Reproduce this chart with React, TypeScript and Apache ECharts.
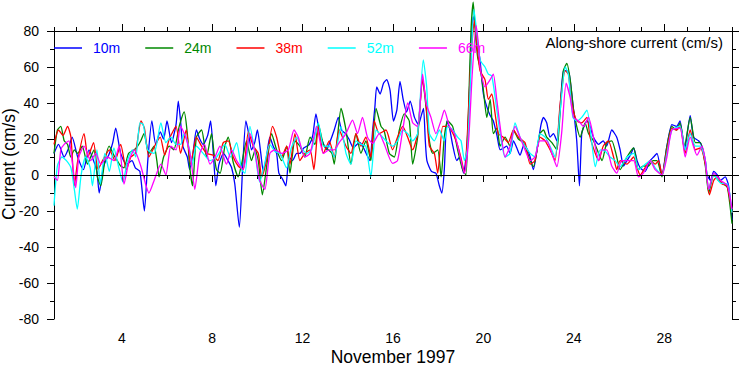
import React, { useEffect, useRef } from "react";
import * as echarts from "echarts";

// Day of November 1997 (fractional) and along-shore current (cm/s)
const s10m: [number, number][] = [
  [1.0,12],[1.2,17],[1.45,10],[1.65,15],[1.8,21],[2.05,10],[2.3,3],[2.55,14],[2.75,8],[2.9,2],[3.0,-10],[3.2,5],[3.45,12],[3.6,18],[3.73,26],[3.95,12],[4.2,6],[4.45,8],[4.6,4],[4.8,2],[5.0,-20],[5.15,8],[5.33,30],[5.5,17],[5.7,24],[5.85,20],[6.0,30],[6.2,18],[6.4,28],[6.5,41],[6.6,30],[6.7,16],[6.9,10],[7.0,3],[7.15,12],[7.3,25],[7.45,20],[7.6,17],[7.8,22],[7.93,30],[8.05,12],[8.16,-6],[8.3,6],[8.5,12],[8.7,8],[8.86,4],[9.0,-5],[9.2,-29],[9.35,5],[9.49,30],[9.6,24],[9.74,14],[9.88,18],[10.0,25],[10.15,12],[10.26,2],[10.4,10],[10.55,21],[10.7,16],[10.85,12],[10.95,1],[11.1,-2],[11.26,-6],[11.4,10],[11.55,8],[11.74,12],[11.88,12],[12.05,15],[12.3,17],[12.45,22],[12.59,34],[12.75,23],[12.9,18],[13.06,14],[13.2,18],[13.4,25],[13.58,32],[13.72,25],[13.9,23],[14.05,20],[14.25,15],[14.4,17],[14.54,18],[14.7,15],[14.85,11],[14.98,8],[15.1,25],[15.2,38],[15.28,49],[15.43,45],[15.58,51],[15.72,53],[15.87,47],[16.02,30],[16.17,36],[16.31,52],[16.45,42],[16.6,35],[16.76,41],[16.95,32],[17.13,28],[17.25,33],[17.35,37],[17.43,19],[17.5,8],[17.7,2],[17.9,1],[18.05,-6],[18.16,-10],[18.27,3],[18.38,30],[18.5,26],[18.65,16],[18.82,8],[18.95,10],[19.12,1],[19.25,12],[19.35,35],[19.45,70],[19.55,88],[19.65,82],[19.75,72],[19.85,64],[20.0,45],[20.15,38],[20.3,33],[20.44,30],[20.6,22],[20.74,14],[20.9,15],[21.03,16],[21.18,12],[21.33,19],[21.48,15],[21.62,11],[21.8,17],[21.95,14],[22.07,10],[22.21,3],[22.4,16],[22.55,28],[22.66,32],[22.8,29],[22.95,21],[23.1,23],[23.25,19],[23.4,38],[23.54,58],[23.69,58],[23.8,56],[23.99,36],[24.13,19],[24.25,-6],[24.35,23],[24.45,27],[24.58,30],[24.72,27],[24.87,21],[25.1,17],[25.3,19],[25.45,16],[25.68,25],[25.9,21],[26.05,14],[26.2,5],[26.35,8],[26.5,11],[26.65,15],[26.8,8],[26.94,4],[27.15,2],[27.38,8],[27.53,10],[27.68,12],[27.9,0],[28.12,16],[28.34,28],[28.55,27],[28.7,30],[28.9,14],[29.15,33],[29.3,21],[29.52,19],[29.67,16],[29.82,8],[29.9,0],[30.05,-3],[30.19,2],[30.35,0],[30.49,-3],[30.7,-1],[30.85,-6],[31.0,-25]
];

const s24m: [number, number][] = [
  [1.0,12],[1.15,25],[1.3,27],[1.45,19],[1.6,17],[1.74,10],[1.9,14],[2.05,12],[2.25,16],[2.48,6],[2.62,10],[2.77,14],[2.92,-1],[3.07,-6],[3.25,8],[3.44,16],[3.65,11],[3.8,8],[3.95,5],[4.1,4],[4.3,12],[4.55,14],[4.7,16],[4.84,19],[4.98,23],[5.2,12],[5.43,16],[5.55,8],[5.65,-1],[5.85,10],[6.1,16],[6.3,14],[6.54,27],[6.76,35],[6.9,23],[7.0,5],[7.13,-6],[7.3,21],[7.53,25],[7.75,10],[7.97,23],[8.1,10],[8.19,3],[8.35,1],[8.56,16],[8.71,21],[8.93,7],[9.15,-1],[9.3,6],[9.52,19],[9.74,8],[9.9,14],[10.04,8],[10.22,-11],[10.4,4],[10.63,23],[10.85,14],[11.07,8],[11.3,16],[11.44,1],[11.66,19],[11.88,16],[12.1,10],[12.33,21],[12.55,17],[12.7,28],[12.92,17],[13.14,14],[13.3,12],[13.4,6],[13.55,22],[13.7,37],[13.92,25],[14.14,6],[14.36,23],[14.58,12],[14.8,19],[15.02,8],[15.25,37],[15.47,27],[15.6,25],[15.84,12],[16.06,10],[16.28,25],[16.5,34],[16.72,30],[16.87,6],[17.09,21],[17.31,53],[17.46,38],[17.61,19],[17.76,12],[17.98,14],[18.13,-1],[18.27,21],[18.42,30],[18.64,27],[18.86,14],[19.08,3],[19.23,0],[19.35,40],[19.45,80],[19.55,96],[19.65,78],[19.75,65],[19.85,60],[20.0,47],[20.15,32],[20.3,42],[20.44,23],[20.6,26],[20.74,16],[20.96,21],[21.18,16],[21.33,25],[21.55,20],[21.77,18],[22.07,8],[22.21,4.6],[22.5,23],[22.66,25],[22.8,21],[23.03,18],[23.25,14],[23.4,36],[23.54,58],[23.69,62],[23.84,53],[23.99,36],[24.13,27],[24.28,21],[24.5,29],[24.65,23],[24.87,19],[25.1,12],[25.25,8],[25.46,18],[25.68,19],[25.9,10],[26.05,3],[26.35,10],[26.65,15],[26.86,3],[27.08,5],[27.31,5],[27.5,8],[27.68,8],[27.9,-1],[28.12,16],[28.34,27],[28.55,25],[28.7,29],[28.9,16],[29.15,32],[29.38,18],[29.6,18],[29.82,5],[29.97,-10],[30.19,0],[30.4,-3],[30.63,-5],[30.8,-7],[31.0,-27]
];

const s38m: [number, number][] = [
  [1.0,17],[1.2,25],[1.4,22],[1.6,27],[1.75,21],[1.9,-6],[2.05,8],[2.33,23],[2.5,10],[2.75,18],[2.95,3],[3.15,8],[3.45,14],[3.7,8],[3.95,17],[4.2,3],[4.4,10],[4.6,12],[4.85,30],[5.0,26],[5.2,10],[5.45,16],[5.7,21],[5.9,11],[6.1,20],[6.4,27],[6.6,12],[6.85,25],[7.05,6],[7.3,21],[7.53,16],[7.75,12],[8.05,11],[8.25,8],[8.49,18],[8.71,19],[8.93,10],[9.15,5],[9.37,3],[9.6,24],[9.82,16],[10.04,12],[10.19,-1],[10.4,8],[10.67,27],[10.85,21],[11.07,10],[11.3,16],[11.44,6],[11.66,23],[11.88,8],[12.1,12],[12.33,14],[12.5,3],[12.7,27],[12.92,12],[13.18,19],[13.4,10],[13.62,25],[13.92,16],[14.14,12],[14.36,23],[14.58,16],[14.8,21],[15.02,10],[15.17,30],[15.39,23],[15.69,25],[15.98,14],[16.2,21],[16.43,27],[16.65,21],[16.87,14],[17.09,23],[17.31,53],[17.46,40],[17.61,16],[17.83,12],[17.98,1],[18.2,27],[18.42,27],[18.57,25],[18.79,19],[19.0,10],[19.16,1],[19.3,25],[19.45,65],[19.6,86],[19.72,72],[19.85,58],[20.07,53],[20.22,42],[20.37,45],[20.52,34],[20.66,23],[20.88,21],[21.1,18],[21.33,25],[21.55,21],[21.84,18],[22.07,6],[22.28,8],[22.5,21],[22.73,19],[22.95,14],[23.17,8],[23.4,40],[23.62,58],[23.76,56],[23.91,40],[24.13,30],[24.35,29],[24.58,32],[24.72,21],[24.95,12],[25.1,8],[25.3,16],[25.53,19],[25.76,10],[25.9,3],[26.05,8],[26.35,6],[26.65,10],[26.8,4],[26.94,0],[27.15,4],[27.38,8],[27.6,6],[27.75,8],[27.9,0],[28.12,14],[28.34,26],[28.55,25],[28.7,27],[28.93,12],[29.15,25],[29.38,14],[29.6,15],[29.82,6],[30.0,-11],[30.19,-3],[30.35,-1],[30.56,-5],[30.78,-6],[31.0,-21]
];

const s52m: [number, number][] = [
  [1.0,-17],[1.15,5],[1.35,10],[1.55,8],[1.75,4],[1.9,-8],[2.03,-19],[2.2,0],[2.4,10],[2.6,4],[2.7,-6],[2.9,14],[3.05,-5],[3.25,12],[3.45,2],[3.65,15],[3.85,5],[4.05,-4],[4.25,8],[4.47,14],[4.62,10],[4.8,29],[4.95,28],[5.14,14],[5.43,12],[5.73,29],[5.95,18],[6.17,21],[6.4,17],[6.6,17],[6.76,23],[7.0,14],[7.1,5],[7.3,16],[7.6,12],[7.9,8],[8.2,10],[8.56,17],[8.8,10],[9.08,18],[9.3,3],[9.45,1],[9.67,27],[9.9,12],[10.1,-4],[10.3,5],[10.55,17],[10.78,13],[11.0,12],[11.29,4],[11.5,15],[11.74,21],[11.95,15],[12.18,12],[12.4,14],[12.7,29],[12.92,16],[13.18,16],[13.4,10],[13.7,27],[13.92,12],[14.14,6],[14.36,19],[14.58,17],[14.8,16],[15.02,-1],[15.25,25],[15.47,22],[15.69,19],[15.98,16],[16.2,19],[16.43,25],[16.65,23],[16.87,19],[17.09,23],[17.34,64],[17.49,49],[17.61,23],[17.83,19],[18.05,25],[18.27,19],[18.42,27],[18.64,25],[18.86,21],[19.01,19],[19.16,8],[19.3,15],[19.45,60],[19.58,92],[19.7,80],[19.85,64],[20.07,60],[20.22,56],[20.37,55],[20.52,43],[20.74,23],[20.96,10],[21.18,12],[21.4,29],[21.62,21],[21.84,16],[22.07,12],[22.28,10],[22.5,23],[22.73,21],[22.95,16],[23.17,10],[23.4,36],[23.62,60],[23.76,56],[23.96,32],[24.13,30],[24.35,32],[24.58,36],[24.8,17.6],[24.95,4.6],[25.17,14],[25.4,13],[25.6,10],[25.83,8],[26.05,4.6],[26.35,10],[26.65,12],[26.86,3],[27.08,5],[27.38,8],[27.6,4],[27.9,0],[28.12,12],[28.34,25],[28.7,27],[28.93,14],[29.15,23],[29.38,16],[29.6,16],[29.82,8],[29.97,-8],[30.19,0],[30.5,-4.6],[30.8,-5],[31.0,-21]
];

const s66m: [number, number][] = [
  [1.0,-1],[1.15,-3],[1.3,14],[1.45,17],[1.66,19],[1.8,8],[1.96,-7],[2.1,10],[2.33,16],[2.62,8],[2.85,12],[3.07,6],[3.36,10],[3.65,8],[3.88,16],[4.1,-5],[4.32,8],[4.55,14],[4.84,5],[5.05,-5],[5.2,-10],[5.43,-3],[5.73,6],[5.95,0],[6.17,16],[6.4,14],[6.6,27],[6.83,21],[7.05,10],[7.23,-8],[7.45,12],[7.66,17],[7.9,6],[8.12,10],[8.34,16],[8.63,6],[8.86,14],[9.08,8],[9.37,3],[9.67,23],[9.9,12],[10.1,-3],[10.33,-8],[10.55,12],[10.78,14],[11.07,12],[11.37,14],[11.62,25],[11.81,21],[12.1,10],[12.33,12],[12.62,27],[12.92,12],[13.18,14],[13.4,14],[13.62,18],[13.92,23],[14.21,30.5],[14.43,23],[14.65,32],[14.87,21],[15.1,17.6],[15.39,23],[15.6,17.6],[15.98,6.5],[16.2,8],[16.43,25],[16.65,40],[16.87,29],[17.09,27],[17.31,56],[17.46,40],[17.68,32],[17.9,23],[18.13,30.5],[18.27,36],[18.5,27],[18.72,23],[18.94,12],[19.16,1],[19.35,20],[19.5,55],[19.68,83],[19.8,70],[19.85,60],[20.07,49],[20.3,53],[20.44,56],[20.59,42],[20.74,27],[20.96,10],[21.18,16],[21.4,27],[21.62,21],[21.84,14],[22.07,8],[22.28,10],[22.5,19],[22.8,19],[23.03,12],[23.25,4.6],[23.46,23],[23.66,51],[23.84,43],[23.99,32],[24.21,30],[24.43,27],[24.65,32],[24.87,21],[25.1,8],[25.25,14],[25.46,14],[25.68,5],[25.9,1],[26.12,8],[26.35,8],[26.65,8],[26.86,-1],[27.08,1],[27.38,8],[27.6,3],[27.9,0],[28.12,10],[28.34,25],[28.7,26],[28.93,10],[29.15,21],[29.45,11],[29.67,16],[29.82,8],[29.97,-8],[30.19,1],[30.5,-3],[30.8,-6],[31.0,-19]
];

const seriesNames = ["10m", "24m", "38m", "52m", "66m"];
const seriesColors = ["#0000ff", "#008800", "#ff0000", "#00ffff", "#ff00ff"];
const seriesData = [s10m, s24m, s38m, s52m, s66m];
const majorDays = [4, 8, 12, 16, 20, 24, 28];

const FONT = "'Liberation Sans', Arial, Helvetica, sans-serif";

export default function App() {
  const ref = useRef<HTMLDivElement>(null);
  useEffect(() => {
    if (!ref.current) return;
    const chart = echarts.init(ref.current, undefined, { renderer: "svg" });
    const black = { color: "#000", width: 1 };
    const baseX = { type: "value", min: 1, max: 31, splitLine: { show: false } };
    const option: any = {
      animation: false,
      textStyle: { fontFamily: FONT },
      title: {
        text: "Along-shore current (cm/s)",
        right: 16,
        top: 35,
        padding: 0,
        textStyle: { fontSize: 15, fontWeight: "normal", color: "#000", fontFamily: FONT },
      },
      legend: {
        left: 54,
        top: 41,
        padding: 0,
        icon: "rect",
        itemWidth: 28,
        itemHeight: 1.5,
        itemGap: 25,
        textStyle: { fontSize: 14, fontFamily: FONT, padding: [0, 0, 0, 6] },
        data: seriesNames.map((n, i) => ({ name: n, textStyle: { color: seriesColors[i] } })),
      },
      grid: { left: 54, right: 7, top: 31, bottom: 46, outerBoundsMode: "none" },
      graphic: [
        {
          type: "text",
          x: 9,
          y: 164,
          rotation: Math.PI / 2,
          style: {
            text: "Current (cm/s)",
            fontSize: 17.5,
            fontFamily: FONT,
            fill: "#000",
            align: "center",
            verticalAlign: "middle",
          },
        },
        {
          type: "text",
          x: 393,
          y: 356.5,
          style: {
            text: "November 1997",
            fontSize: 17.5,
            fontFamily: FONT,
            fill: "#000",
            align: "center",
            verticalAlign: "middle",
          },
        },
      ],
      xAxis: [
        {
          ...baseX,
          position: "bottom",
          interval: 1,
          axisLine: { show: true, lineStyle: black },
          axisTick: { show: true, length: 4, lineStyle: black },
          axisLabel: {
            formatter: (v: number) => (v % 4 === 0 ? String(v) : ""),
            color: "#000",
            fontSize: 14,
            fontFamily: FONT,
            margin: 12,
          },
        },
        {
          ...baseX,
          position: "bottom",
          axisLine: { show: false },
          axisTick: { show: true, length: 7, lineStyle: black, customValues: majorDays },
          axisLabel: { show: false },
        },
        {
          ...baseX,
          position: "top",
          interval: 1,
          axisLine: { show: true, lineStyle: black },
          axisTick: { show: true, length: 4, lineStyle: black },
          axisLabel: { show: false },
        },
        {
          ...baseX,
          position: "top",
          axisLine: { show: false },
          axisTick: { show: true, length: 7, lineStyle: black, customValues: majorDays },
          axisLabel: { show: false },
        },
      ],
      yAxis: [
        {
          type: "value",
          position: "left",
          min: -80,
          max: 80,
          interval: 20,
          splitLine: { show: false },
          axisLine: { show: true, lineStyle: black },
          axisTick: { show: true, length: 7, lineStyle: black },
          minorTick: { show: true, splitNumber: 2, length: 4, lineStyle: black },
          axisLabel: { color: "#000", fontSize: 14, fontFamily: FONT, margin: 15 },
        },
        {
          type: "value",
          position: "right",
          min: -80,
          max: 80,
          interval: 20,
          splitLine: { show: false },
          axisLine: { show: true, lineStyle: black },
          axisTick: { show: true, length: 7, lineStyle: black },
          minorTick: { show: true, splitNumber: 2, length: 4, lineStyle: black },
          axisLabel: { show: false },
        },
      ],
      series: seriesData.map((d, i) => ({
        name: seriesNames[i],
        type: "line",
        xAxisIndex: 0,
        yAxisIndex: 0,
        data: d,
        symbol: "none",
        showSymbol: false,
        smooth: 0.2,
        clip: false,
        color: seriesColors[i],
        lineStyle: { color: seriesColors[i], width: 1.3 },
        markLine:
          i === seriesData.length - 1
            ? {
                silent: true,
                symbol: ["none", "none"],
                label: { show: false },
                lineStyle: { color: "#000", width: 1, type: "solid" },
                data: [{ yAxis: 0 }],
              }
            : undefined,
      })),
    };
    chart.setOption(option);
    return () => chart.dispose();
  }, []);
  return (
    <div
      ref={ref}
      style={{ position: "fixed", left: 0, top: 0, width: 739, height: 365, background: "#fff" }}
    />
  );
}
